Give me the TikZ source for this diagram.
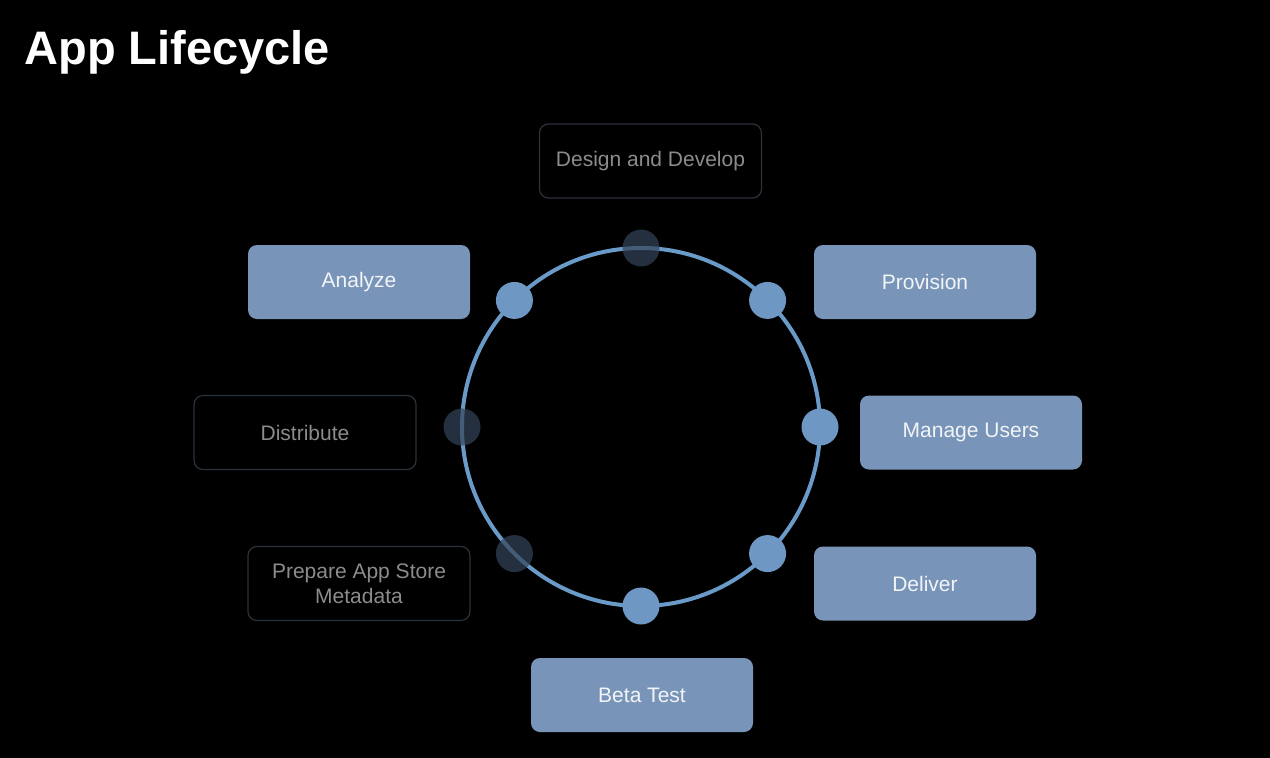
\documentclass[tikz,border=0pt]{standalone}
\usepackage{fontspec}
\setmainfont{Liberation Sans}
\begin{document}
\definecolor{bluefill}{HTML}{7895B9}
\definecolor{ringblue}{HTML}{6A9BC8}
\definecolor{dotblue}{HTML}{6E98C3}
\definecolor{dimdot}{HTML}{34455A}
\definecolor{dimborder}{HTML}{2C323B}
\definecolor{dimtext}{HTML}{8C8C8C}
\definecolor{lighttext}{HTML}{F2F4F7}
\begin{tikzpicture}[x=1pt,y=-1pt,
  stagebox/.style={rounded corners=9pt, minimum width=222pt, minimum height=74pt, inner sep=0pt, align=center, font=\fontsize{21}{25}\selectfont},
  activebox/.style={stagebox, fill=bluefill, text=lighttext},
  idlebox/.style={stagebox, draw=dimborder, line width=1.2pt, fill=black, text=dimtext},
  ondot/.style={circle, fill=dotblue, minimum size=37pt, inner sep=0pt},
  offdot/.style={circle, fill=dimdot, fill opacity=0.7, minimum size=37pt, inner sep=0pt}]
\fill[black] (0,0) rectangle (1270,758);
\useasboundingbox (0,0) rectangle (1270,758);
\node[anchor=base west, text=white, font=\fontsize{47}{54}\bfseries\selectfont] (title) at (21,64) {App Lifecycle};
\coordinate (c) at (641,427);
\draw[ringblue, line width=4pt] (c) circle[radius=179pt];
% dots
\node[offdot] (d90) at ([shift={(90:179pt)}]c) {};
\node[ondot] (d45) at ([shift={(45:179pt)}]c) {};
\node[ondot] (d0) at ([shift={(0:179pt)}]c) {};
\node[ondot] (dm45) at ([shift={(-45:179pt)}]c) {};
\node[ondot] (dm90) at ([shift={(-90:179pt)}]c) {};
\node[offdot] (dm135) at ([shift={(-135:179pt)}]c) {};
\node[offdot] (d180) at ([shift={(180:179pt)}]c) {};
\node[ondot] (d135) at ([shift={(135:179pt)}]c) {};
% boxes
\node[idlebox] (design) at (650.5,161) {Design and Develop};
\node[activebox] (provision) at (925,282) {Provision};
\node[activebox] (manage) at (971,432.5) {Manage Users};
\node[activebox] (deliver) at (925,583.5) {Deliver};
\node[activebox] (beta) at (642,695) {Beta Test};
\node[idlebox] (prepare) at (359,583.5) {Prepare App Store\\Metadata};
\node[idlebox] (distribute) at (305,432.5) {Distribute};
\node[activebox] (analyze) at (359,282) {Analyze};
\end{tikzpicture}
\end{document}
